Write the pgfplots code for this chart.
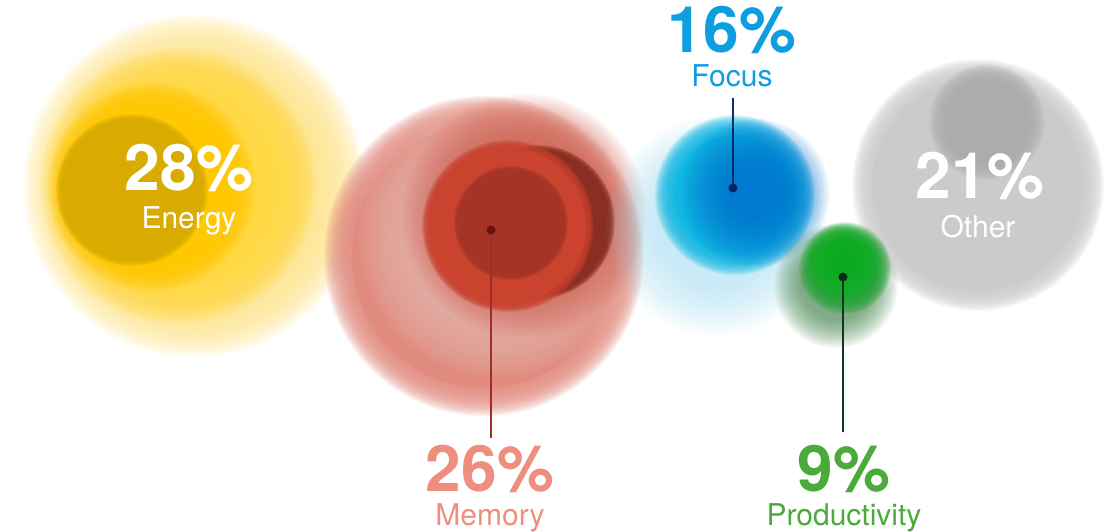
\documentclass[border=0pt]{standalone}
\usepackage{fontspec}
\setmainfont{TeX Gyre Heros}
\usepackage{pgfplots}
\pgfplotsset{compat=1.18}
% colours
\definecolor{enA}{HTML}{FEE48E}
\definecolor{enB}{HTML}{FFD944}
\definecolor{enC}{HTML}{FFC800}
\definecolor{enD}{HTML}{D9AB00}
\definecolor{meA}{HTML}{E18B7F}
\definecolor{meB}{HTML}{EFBCB4}
\definecolor{meC}{HTML}{D2604F}
\definecolor{meD}{HTML}{8A2D22}
\definecolor{meE}{HTML}{C9432F}
\definecolor{meF}{HTML}{A43526}
\definecolor{foA}{HTML}{9ED9EE}
\definecolor{foB}{HTML}{10B8E2}
\definecolor{foC}{HTML}{0070D0}
\definecolor{otA}{HTML}{CBCBCB}
\definecolor{otC}{HTML}{ACACAC}
\definecolor{prA}{HTML}{3C7F45}
\definecolor{prB}{HTML}{22A636}
\definecolor{prC}{HTML}{0AB520}
\definecolor{memTxt}{HTML}{EE8E7E}
\definecolor{focTxt}{HTML}{0E9EE0}
\definecolor{proTxt}{HTML}{4AAA3A}
\definecolor{memLine}{HTML}{9E2E2A}
\definecolor{focLine}{HTML}{0B2D6E}
\definecolor{proLine}{HTML}{12332A}
\definecolor{memDot}{HTML}{6B1010}
\definecolor{focDot}{HTML}{0B2260}
\definecolor{proDot}{HTML}{0A2A15}
% a filled disc mark with no outline
\pgfdeclareplotmark{disc}{\pgfpathcircle{\pgfpointorigin}{\pgfplotmarksize}\pgfusepathqfill}
% soft-edged disc: x, y, r, blur, colour, opacity per layer
\newcommand{\softdisc}[6]{%
  \pgfplotsinvokeforeach{0,...,19}{%
    \addplot[only marks, mark=disc,
      mark size={#3+#4-2*#4*##1/19},
      mark options={fill=#5, fill opacity=#6}] coordinates {(#1,#2)};
  }%
}
\newcommand{\soliddisc}[4]{%
  \addplot[only marks, mark=disc, mark size={#3},
    mark options={fill=#4}] coordinates {(#1,#2)};
}
\newcommand{\blob}[5]{%
  \softdisc{#1}{#2}{#3}{#4}{#5}{0.13}%
  \soliddisc{#1}{#2}{#3-#4}{#5}%
}
\newcommand{\numfont}{\fontsize{64}{64}\selectfont\bfseries}
\newcommand{\labfont}{\fontsize{30}{30}\selectfont}
\tikzset{num/.style={anchor=base, inner sep=0pt, text depth=0pt},
         lab/.style={anchor=base, inner sep=0pt, text height=22pt}}
\begin{document}
\begin{tikzpicture}
\begin{axis}[scale only axis, width=1105pt, height=531pt,
  xmin=0, xmax=1105, ymin=0, ymax=531, y dir=reverse,
  hide axis, clip=false, clip marker paths=true]
% Energy 28%
\blob{194}{186}{145}{26}{enA}
\blob{178}{186}{116}{22}{enB}
\blob{152}{187}{90}{14}{enC}
\blob{132}{190}{72}{4}{enD}
% Memory 26%
\blob{484}{256}{146}{14}{meA}
\softdisc{498}{238}{112}{28}{meB}{0.07}
\softdisc{524}{216}{100}{22}{meC}{0.06}
\blob{538}{222}{74}{3}{meD}
\blob{508}{226}{82}{4}{meE}
\blob{511}{223}{54}{3}{meF}
% Focus 16%
\softdisc{716}{226}{86}{24}{foA}{0.04}
\blob{735}{195}{70}{10}{foB}
\softdisc{755}{193}{48}{26}{foC}{0.08}
% Other 21%
\blob{978}{185}{116}{10}{otA}
\softdisc{987}{122}{46}{12}{otC}{0.14}
% Productivity 9%
\softdisc{836}{286}{48}{14}{prA}{0.05}
\blob{845}{268}{38}{8}{prB}
\softdisc{843}{262}{22}{16}{prC}{0.09}
% leader lines and dots
\addplot[memLine, line width=1.3pt] coordinates {(491,230) (491,438)};
\addplot[focLine, line width=1.3pt] coordinates {(733,188) (733,98)};
\addplot[proLine, line width=1.3pt] coordinates {(843,277) (843,432)};
\addplot[only marks, mark=disc, mark size=4.5, mark options={fill=memDot}] coordinates {(491,230)};
\addplot[only marks, mark=disc, mark size=4.5, mark options={fill=focDot}] coordinates {(733,188)};
\addplot[only marks, mark=disc, mark size=4.5, mark options={fill=proDot}] coordinates {(843,277)};
% label anchors
\coordinate (enN) at (axis cs:189,190);
\coordinate (enL) at (axis cs:189,228);
\coordinate (meN) at (axis cs:490,491);
\coordinate (meL) at (axis cs:490,525);
\coordinate (foN) at (axis cs:732,53);
\coordinate (foL) at (axis cs:732,87);
\coordinate (prN) at (axis cs:844,491);
\coordinate (prL) at (axis cs:844,525);
\coordinate (otN) at (axis cs:980,198);
\coordinate (otL) at (axis cs:978,237);
\end{axis}
\node[num, text=white] at (enN) {\numfont 28\%};
\node[lab, text=white] at (enL) {\labfont Energy};
\node[num, text=memTxt] at (meN) {\numfont 26\%};
\node[lab, text=memTxt] at (meL) {\labfont Memory};
\node[num, text=focTxt] at (foN) {\numfont 16\%};
\node[lab, text=focTxt] at (foL) {\labfont Focus};
\node[num, text=proTxt] at (prN) {\numfont 9\%};
\node[lab, text=proTxt] at (prL) {\labfont Productivity};
\node[num, text=white] at (otN) {\numfont 21\%};
\node[lab, text=white] at (otL) {\labfont Other};
\pgfresetboundingbox
\path[use as bounding box] (0,0) rectangle (1105pt,531pt);
\end{tikzpicture}
\end{document}
